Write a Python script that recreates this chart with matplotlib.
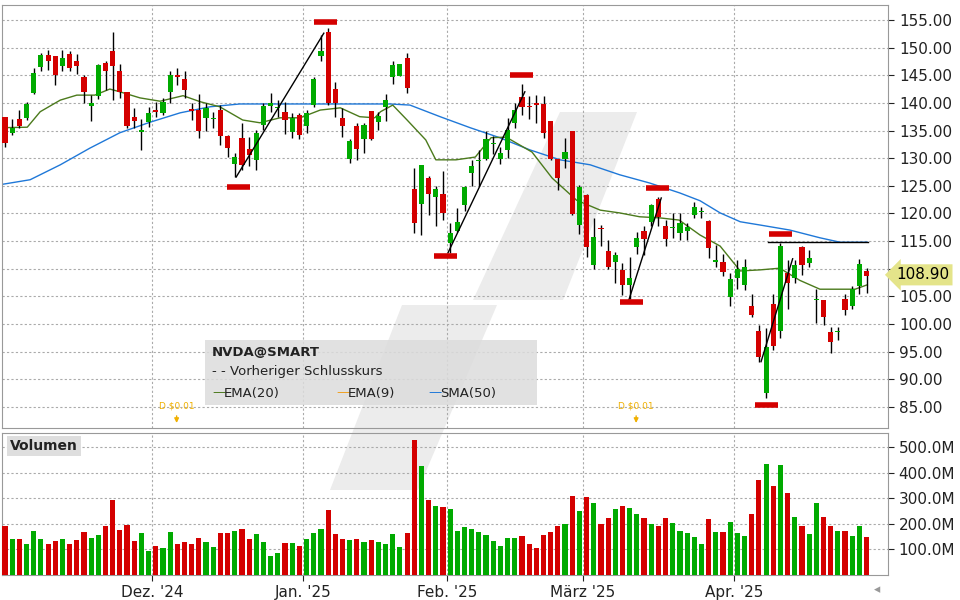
import matplotlib
matplotlib.use("Agg")
import matplotlib.pyplot as plt
from matplotlib.patches import Polygon, Rectangle
import numpy as np

# OHLC per trading day
opens = [137.5,134.6,137.1,137.3,141.7,146.4,148.7,148.5,146.7,148.8,147.5,144.7,139.5,141.3,147.3,149.3,145.8,141.9,137.5,134.8,
         136.6,138.7,138.2,141.9,145.0,144.4,138.9,138.8,137.3,137.1,138.8,134.0,128.9,133.7,131.7,129.7,136.0,139.5,139.0,138.3,
         134.8,137.8,135.8,139.6,148.5,152.9,142.5,137.3,129.8,135.8,133.4,138.5,136.6,139.2,144.6,144.9,148.2,124.5,121.8,126.4,
         123.0,123.5,114.7,116.9,121.6,127.4,129.4,129.9,132.5,129.9,131.4,136.4,141.0,139.4,139.9,139.8,136.7,129.8,129.8,134.9,
         118.0,123.3,110.6,117.3,113.2,111.2,109.8,107.0,114.0,116.8,118.5,122.6,117.7,117.3,116.4,116.9,119.8,120.2,118.6,111.2,
         111.3,104.9,108.4,107.0,103.3,98.7,87.5,103.6,98.8,109.2,108.4,113.9,111.0,104.3,104.3,98.6,98.5,104.5,103.3,106.8,109.6]
closes = [132.7,135.4,135.9,139.8,145.4,148.7,147.5,145.1,148.2,146.3,146.7,141.9,140.0,146.9,145.8,146.6,141.9,135.8,136.8,135.1,
          138.1,138.4,140.2,145.0,144.6,142.3,138.5,135.0,139.0,137.3,134.0,131.9,130.3,128.8,130.6,134.5,139.4,139.9,139.1,136.9,
          137.2,134.2,138.1,144.3,149.3,139.9,139.9,135.8,133.1,131.7,136.0,133.5,137.6,140.6,146.9,147.0,142.6,118.3,128.8,123.6,
          124.4,120.0,116.5,118.4,124.7,128.5,129.7,133.4,132.7,130.9,135.1,138.7,139.3,139.2,139.7,134.5,129.9,126.5,131.2,119.9,
          124.8,114.0,115.7,117.1,110.4,112.5,107.0,108.4,115.5,115.4,121.5,119.4,115.3,117.5,118.2,117.5,121.1,120.3,113.7,111.5,
          109.5,108.1,109.9,110.3,101.6,94.1,95.9,96.1,114.1,107.5,110.7,110.6,112.0,104.4,101.3,96.8,98.7,102.5,106.3,110.9,108.6]
highs = [137.5,137.0,138.7,140.2,146.3,149.0,149.6,148.5,149.6,149.3,148.8,145.0,141.4,147.0,147.5,152.9,147.0,141.9,139.0,137.0,
         139.3,140.2,140.8,145.7,146.3,145.7,139.9,141.6,140.0,138.4,139.6,134.2,130.9,136.4,133.9,135.1,139.9,141.7,140.6,140.2,
         138.1,138.1,138.7,144.7,152.2,153.5,143.8,139.0,133.4,136.3,136.4,138.6,138.4,141.6,147.6,147.0,149.0,128.2,128.8,126.8,
         124.9,127.6,118.3,120.9,125.0,129.7,131.5,135.0,134.0,132.0,137.2,139.9,143.4,141.2,141.4,141.2,136.7,129.9,133.6,134.9,
         125.1,123.6,119.1,118.0,115.2,113.1,111.0,112.1,116.6,117.8,121.7,123.0,118.9,120.0,120.0,118.2,122.1,121.2,118.8,114.3,
         112.7,109.2,111.6,111.7,105.4,99.8,99.2,105.5,114.7,111.6,111.6,114.2,113.4,106.4,104.3,99.5,99.5,105.5,106.9,111.8,110.1]
lows = [132.0,134.2,135.4,136.9,141.6,145.8,146.0,143.2,145.7,145.7,145.2,139.9,136.8,140.7,142.3,140.5,140.8,135.5,135.4,131.5,
        135.7,137.5,137.8,139.9,143.2,140.8,136.9,133.6,135.0,135.4,132.3,130.2,126.6,127.9,128.5,127.9,135.1,138.4,137.5,134.4,
        133.7,133.4,134.5,139.3,147.5,139.6,137.4,133.9,129.1,129.7,131.0,133.2,135.1,136.8,143.5,144.9,141.7,116.4,116.1,119.7,
        117.7,118.8,112.8,116.7,120.4,125.0,124.9,129.7,130.8,128.9,130.0,135.4,137.8,137.0,136.4,133.6,129.7,124.2,128.3,119.7,
        116.3,112.2,109.9,114.2,109.9,107.4,105.3,104.5,112.6,112.4,117.7,117.8,114.2,115.5,115.2,115.2,119.1,119.1,111.9,110.4,
        108.7,103.3,106.3,106.2,101.3,93.2,86.6,95.3,97.4,102.8,107.4,108.9,110.4,100.1,99.8,94.7,97.1,101.6,102.8,105.5,105.7]
volumes = [191,140,140,121,171,140,121,132,140,121,136,168,144,156,191,292,175,195,132,164,
           94,113,105,168,121,129,121,144,129,109,164,164,171,179,140,160,129,74,86,125,
           125,113,140,164,179,253,160,140,136,140,129,136,129,121,160,109,164,526,425,292,
           269,265,257,171,187,179,168,156,132,113,144,144,152,121,105,156,168,191,199,308,
           249,304,281,199,222,257,269,261,238,222,199,191,222,203,171,164,148,121,218,168,
           168,206,164,152,238,370,432,347,429,319,226,191,160,281,226,191,171,171,152,191,148]

# indicator lines, sampled (day index, value)
sma50_x = [-0.7,3.5,7.7,11.8,16.0,20.2,24.4,28.6,32.7,36.9,41.1,45.3,49.4,53.6,56.4,60.6,64.8,68.9,73.1,77.3,81.5,85.6,89.8,94.0,96.8,99.6,102.4,105.2,109.3,113.5,116.3,120.1]
sma50_y = [125.2,126.1,128.8,131.8,134.6,136.5,138.2,139.3,139.8,139.8,139.8,139.8,139.8,139.8,139.6,137.5,135.5,133.7,131.5,129.7,128.8,127.0,125.5,123.7,122.3,120.1,118.5,117.9,117.0,115.6,114.8,114.8]
ema20_x = [-0.7,3.1,4.9,7.7,10.0,12.5,14.6,16.0,18.8,21.6,24.8,27.2,29.9,33.1,35.5,38.3,41.1,43.9,46.7,49.4,51.5,52.3,54.0,56.0,58.6,60.0,62.8,65.5,67.7,69.8,73.4,76.2,79.6,82.9,85.6,88.4,91.2,93.9,96.8,99.6,102.4,105.2,107.9,110.7,113.5,116.3,118.4,120.1]
ema20_y = [135.5,135.6,138.4,140.5,141.4,141.4,142.5,142.0,140.9,140.3,141.3,140.2,139.3,136.9,136.4,137.3,137.3,138.7,139.1,137.5,137.3,138.4,139.6,136.9,133.3,129.7,129.7,130.2,133.7,133.8,131.1,126.4,122.4,120.6,120.1,119.4,119.2,118.8,116.1,114.1,109.6,109.8,110.1,107.9,106.3,106.3,106.3,107.1]

# pattern markers and trend lines
mark_x = [32.5, 44.6, 61.4, 72.0, 87.3, 90.9, 106.0, 108.0]
mark_y = [124.8, 154.6, 112.3, 145.1, 104.0, 124.6, 85.4, 116.3]
trend_lines = [((32.2, 126.6), (44.4, 152.6)), ((61.7, 112.9), (72.4, 142.0)),
               ((86.9, 104.4), (91.4, 122.8)), ((105.3, 93.2), (109.7, 111.8)),
               ((106.3, 114.8), (120.2, 114.8))]

month_pos = [20.5, 41.5, 61.6, 80.5, 101.5]
month_labels = ["Dez. '24", "Jan. '25", "Feb. '25", "März '25", "Apr. '25"]
price_ticks = [85, 90, 95, 100, 105, 110, 115, 120, 125, 130, 135, 140, 145, 150, 155]
vol_ticks = [100, 200, 300, 400, 500]
last_price = 108.90
div_x = [23.9, 87.9]

RED = "#d40000"
GREEN = "#00aa00"
W, H = 960, 600

def fx(px):
    return px / W

def fy(py):
    return 1 - py / H

fig = plt.figure(figsize=(9.6, 6), dpi=100)
ax = fig.add_axes([fx(2), fy(428), fx(886), (428 - 5) / H])
axv = fig.add_axes([fx(2), fy(575), fx(886), (575 - 433) / H])

# watermark behind everything
for poly in ([(560, 112), (637, 112), (563, 300), (473, 300)],
             [(402, 305), (497, 305), (418, 490), (330, 490)]):
    fig.patches.append(Polygon([(fx(a), fy(b)) for a, b in poly], closed=True,
                               transform=fig.transFigure, facecolor="#ececec",
                               edgecolor="none", zorder=-1))
for a in (ax, axv):
    a.set_facecolor("none")

n = len(opens)
idx = np.arange(n)
o = np.array(opens); c = np.array(closes)
cols = [GREEN if cc >= oo else RED for oo, cc in zip(o, c)]

ax.vlines(idx, lows, highs, color="black", lw=1, zorder=3)
body = np.maximum(np.abs(c - o), 0.25)
ax.bar(idx, body, bottom=np.minimum(o, c), width=0.72, color=cols, zorder=4)

ax.plot(sma50_x, sma50_y, color="#1f78d8", lw=1, zorder=2)
ax.plot(ema20_x, ema20_y, color="#4b7a1c", lw=1, zorder=2)
for (x0, y0), (x1, y1) in trend_lines:
    ax.plot([x0, x1], [y0, y1], color="black", lw=1, zorder=5)
for mx, my in zip(mark_x, mark_y):
    ax.plot([mx - 1.6, mx + 1.6], [my, my], color=RED, lw=4, solid_capstyle="butt", zorder=5)

xlim = (-0.42, 122.98)
ax.set_xlim(*xlim)
ax.set_ylim(81.2, 157.7)
ax.yaxis.tick_right()
ax.set_yticks(price_ticks)
# the 110.00 label is covered by the last-price box
ax.set_yticklabels(["" if t == 110 else f"{t:.2f}" for t in price_ticks])
ax.set_xticks(month_pos)
ax.set_xticklabels([])
ax.tick_params(axis="x", length=0)
ax.tick_params(axis="y", length=4, labelsize=11, colors="#222222", pad=4)
ax.grid(True, color="#aaaaaa", ls=(0, (2, 2)), lw=0.8)
ax.set_axisbelow(True)

ax.annotate(f"{last_price:.2f}", xy=(1.0, last_price), xycoords=("axes fraction", "data"),
            xytext=(6, 0), textcoords="offset points", va="center", ha="left", fontsize=11,
            bbox=dict(boxstyle="larrow,pad=0.2", fc="#e4e48a", ec="none"), zorder=10,
            annotation_clip=False)

# volume
axv.bar(idx, volumes, width=0.72, color=cols, zorder=3)
axv.set_xlim(*xlim)
axv.set_ylim(0, 555)
axv.yaxis.tick_right()
axv.set_yticks(vol_ticks)
axv.set_yticklabels([f"{v:.1f}M" for v in vol_ticks])
axv.set_xticks(month_pos)
axv.set_xticklabels(month_labels)
axv.tick_params(axis="both", labelsize=11, colors="#222222", length=4)
axv.grid(True, color="#aaaaaa", ls=(0, (2, 2)), lw=0.8)
axv.set_axisbelow(True)

for a in (ax, axv):
    for s in a.spines.values():
        s.set_color("#999999")

# legend box
fig.patches.append(Rectangle((fx(205), fy(405)), fx(332), 65 / H, transform=fig.transFigure,
                             facecolor="#dcdcdc", alpha=0.85, edgecolor="none", zorder=6))
fig.text(fx(212), fy(352), "NVDA@SMART", fontsize=9.5, fontweight="bold", va="center", color="#222222", zorder=7)
fig.text(fx(212), fy(372), "- - Vorheriger Schlusskurs", fontsize=9.5, va="center", color="#222222", zorder=7)
fig.text(fx(212), fy(393), "—", fontsize=9.5, va="center", color="#4b7a1c", zorder=7)
fig.text(fx(224), fy(393), "EMA(20)", fontsize=9.5, va="center", color="#222222", zorder=7)
fig.text(fx(336), fy(393), "—", fontsize=9.5, va="center", color="#f0a020", zorder=7)
fig.text(fx(348), fy(393), "EMA(9)", fontsize=9.5, va="center", color="#222222", zorder=7)
fig.text(fx(428), fy(393), "—", fontsize=9.5, va="center", color="#1f78d8", zorder=7)
fig.text(fx(440), fy(393), "SMA(50)", fontsize=9.5, va="center", color="#222222", zorder=7)

# dividends
for dx in div_x:
    ax.annotate("D $0.01", xy=(dx, 81.6), xytext=(dx, 84.4), ha="center", va="bottom",
                fontsize=6.5, color="#f0b000",
                arrowprops=dict(arrowstyle="-|>", color="#f0b000", lw=1))

# volume label
fig.text(fx(10), fy(446), "Volumen", fontsize=10, fontweight="bold", va="center", color="#222222",
         bbox=dict(boxstyle="square,pad=0.25", fc="#dedede", ec="none"))
fig.text(fx(874), fy(590), "◂", fontsize=9, color="#999999", va="center")

fig.savefig("out.png", dpi=100)
